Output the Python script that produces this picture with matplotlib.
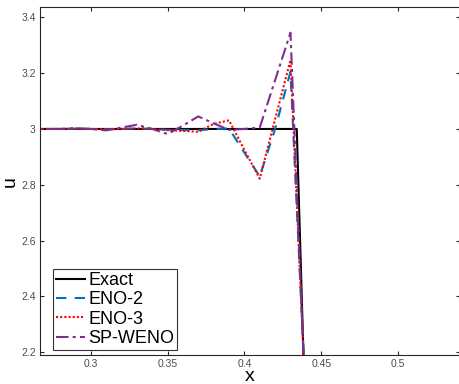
import matplotlib
matplotlib.use("Agg")
import matplotlib.pyplot as plt

plt.rcParams['font.family'] = ['Liberation Sans', 'DejaVu Sans']

# Data
x_exact = [0.26, 0.4341, 0.4445]
u_exact = [3.0, 3.0, 1.07]

x_num = [0.26, 0.27, 0.28, 0.29, 0.30, 0.31, 0.32, 0.33, 0.34, 0.35,
         0.36, 0.37, 0.38, 0.39, 0.40, 0.41, 0.42, 0.43, 0.44]
u_eno2 = [3.0, 3.0, 3.0, 3.001, 3.0, 2.999, 3.0, 3.002, 3.0, 2.997,
          2.996, 2.995, 3.0, 3.002, 2.915, 2.83, 3.0, 3.205, 2.02]
u_eno3 = [3.0, 3.0, 3.0, 3.001, 3.0, 2.999, 3.0, 3.002, 3.0, 2.996,
          2.993, 2.99, 3.018, 3.031, 2.925, 2.822, 3.035, 3.247, 2.01]
u_spweno = [3.0, 3.0, 3.0, 3.003, 3.0, 2.995, 3.005, 3.015, 3.0, 2.982,
            3.012, 3.045, 3.02, 2.997, 3.0, 3.005, 3.175, 3.345, 1.98]

xticks = [0.3, 0.35, 0.4, 0.45, 0.5]
yticks = [2.2, 2.4, 2.6, 2.8, 3.0, 3.2, 3.4]
xticklabels = ['0.3', '0.35', '0.4', '0.45', '0.5']
yticklabels = ['2.2', '2.4', '2.6', '2.8', '3', '3.2', '3.4']

fig = plt.figure(figsize=(4.6, 3.84), dpi=100)
ax = fig.add_axes([40/460, 1-355/384, 419.5/460, (355-7.3)/384])

lw = 1.5
ax.plot(x_exact, u_exact, color='black', lw=lw, label='Exact')
ax.plot(x_num, u_eno2, color='#0072BD', lw=lw, ls=(0, (5, 4)), label='ENO-2')
ax.plot(x_num, u_eno3, color='#FF0000', lw=lw, ls=(0, (1, 1)), label='ENO-3')
ax.plot(x_num, u_spweno, color='#7E2F8E', lw=lw, ls=(0, (6, 2, 1.5, 2)), label='SP-WENO')

ax.set_xlim(0.267, 0.540)
ax.set_ylim(2.19, 3.436)
ax.set_xticks(xticks)
ax.set_xticklabels(xticklabels)
ax.set_yticks(yticks)
ax.set_yticklabels(yticklabels)

tc = '#4d4d4d'
ax.tick_params(direction='in', length=3, width=0.8, top=True, right=True,
               labelsize=7.5, colors='#262626', labelcolor=tc, pad=3)
for s in ax.spines.values():
    s.set_color('#262626')
    s.set_linewidth(0.8)

ax.set_xlabel('x', fontsize=14, labelpad=-0.5)
ax.set_ylabel('u', fontsize=14, labelpad=2)

leg = ax.legend(loc='lower left', bbox_to_anchor=(0.018, 0.0), fontsize=13,
                frameon=True, fancybox=False, edgecolor='black',
                handlelength=1.6, handletextpad=0.2, labelspacing=0.13,
                borderpad=0.15, borderaxespad=0.3)
leg.get_frame().set_linewidth(0.8)

fig.savefig('out.png', dpi=100)
